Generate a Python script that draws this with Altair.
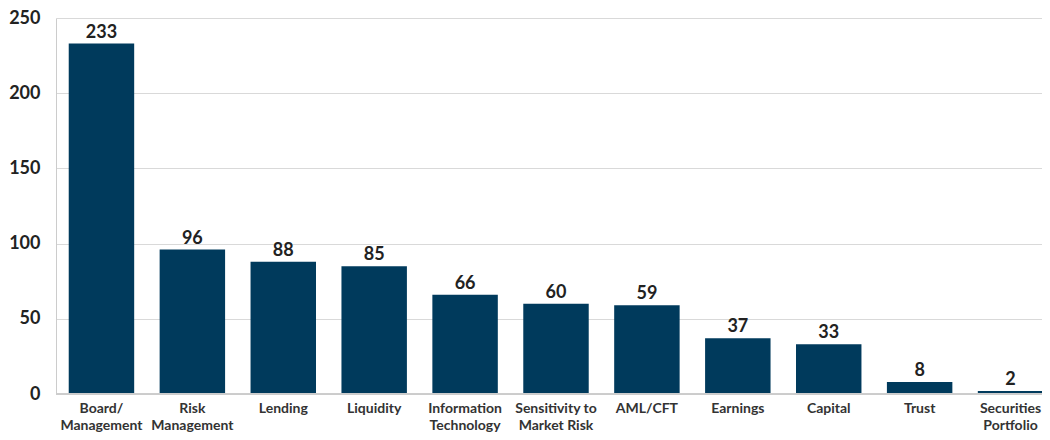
import altair as alt
import pandas as pd

categories = ["Board/|Management", "Risk|Management", "Lending", "Liquidity",
              "Information|Technology", "Sensitivity to|Market Risk", "AML/CFT",
              "Earnings", "Capital", "Trust", "Securities|Portfolio"]
values = [233, 96, 88, 85, 66, 60, 59, 37, 33, 8, 2]

df = pd.DataFrame({"category": categories, "value": values})

FONT = "Lato"
PLOT_W = 986
PLOT_H = 376

base = alt.Chart(df).encode(
    x=alt.X("category:N", sort=categories,
            scale=alt.Scale(paddingInner=0.28, paddingOuter=0.14, range=[0, 1000]),
            axis=alt.Axis(title=None, labelAngle=0, ticks=False, domain=False,
                          labelFont=FONT, labelFontSize=14,
                          labelFontWeight="bold", labelColor="#333333", labelPadding=7,
                          labelExpr="split(datum.label, '|')", labelLineHeight=17)),
    y=alt.Y("value:Q", scale=alt.Scale(domain=[0, 250]),
            axis=alt.Axis(title=None, values=[0, 50, 100, 150, 200, 250], ticks=False,
                          domain=True, domainColor="#cccccc", gridColor="#d9d9d9",
                          labelFont=FONT, labelFontSize=18, labelFontWeight="bold",
                          labelColor="#222222", labelPadding=16)),
)

bars = base.mark_bar(color="#003a5c")
text = base.mark_text(dy=-11, font=FONT, fontSize=18, fontWeight="bold",
                      color="#222222").encode(text="value:Q")
baseline = alt.Chart(df).mark_rule(color="#cccccc").encode(
    x=alt.value(0), x2=alt.value(PLOT_W), y=alt.value(PLOT_H))

chart = (bars + baseline + text).properties(
    width=PLOT_W, height=PLOT_H,
    autosize=alt.AutoSizeParams(type="none"),
    padding={"left": 48, "top": 10, "right": 0, "bottom": 38}
).configure_view(stroke=None)

chart.save("out.html", embed_options={"renderer": "svg", "actions": False})
